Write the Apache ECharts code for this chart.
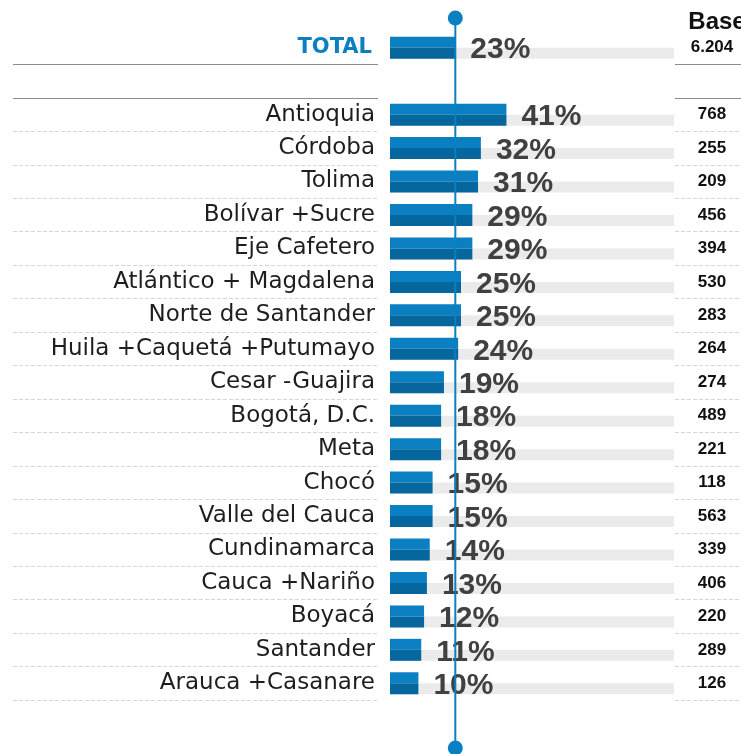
<!DOCTYPE html>
<html>
<head>
<meta charset="utf-8">
<script src="https://cdn.jsdelivr.net/npm/echarts@6/dist/echarts.min.js"></script>
<style>
  html, body { margin: 0; padding: 0; background: #fff; }
  #main { width: 741px; height: 754px; }
</style>
</head>
<body>
<div id="main"></div>
<script>
// datos
const totalLabel = 'TOTAL';
const totalValue = 23;
const totalBase = '6.204';
const regions = ['Antioquia', 'Córdoba', 'Tolima', 'Bolívar +Sucre', 'Eje Cafetero',
  'Atlántico + Magdalena', 'Norte de Santander', 'Huila +Caquetá +Putumayo', 'Cesar -Guajira',
  'Bogotá, D.C.', 'Meta', 'Chocó', 'Valle del Cauca', 'Cundinamarca', 'Cauca +Nariño',
  'Boyacá', 'Santander', 'Arauca +Casanare'];
const values = [41, 32, 31, 29, 29, 25, 25, 24, 19, 18, 18, 15, 15, 14, 13, 12, 11, 10];
const bases = ['768', '255', '209', '456', '394', '530', '283', '264', '274', '489',
  '221', '118', '563', '339', '406', '220', '289', '126'];

const blue = '#0a7fc2';
const blueDark = '#06679f';
const rowH = 33.45;
const top0 = 31;
const topR = top0 + 2 * rowH;

const pctLabel = {
  show: true, position: 'right', distance: 15, offset: [0, 8],
  formatter: '{c}%', color: '#404040', fontSize: 30, fontWeight: 'bold',
  fontFamily: 'Liberation Sans'
};

function lineAxis(grid, cats, dashed) {
  return {
    gridIndex: grid, type: 'category', data: cats, inverse: true,
    axisLine: {show: false}, axisTick: {show: false}, axisLabel: {show: false},
    splitLine: {
      show: true, showMinLine: false, showMaxLine: true,
      lineStyle: dashed ? {color: '#d6d6d6', type: [4, 2], width: 1} : {color: '#8c8c8c', width: 1}
    }
  };
}

const chart = echarts.init(document.getElementById('main'));
chart.setOption({
  animation: false,
  backgroundColor: '#fff',
  title: {
    text: 'Base', left: 712, top: 5, textAlign: 'center',
    textStyle: {fontFamily: 'Liberation Sans', fontWeight: 'bold', fontSize: 24, color: '#111'}
  },
  grid: [
    {left: 390, width: 284, top: top0, height: rowH},          // barra total
    {left: 390, width: 284, top: topR, height: 18 * rowH},     // barras regiones
    {left: 13, width: 365, top: top0, height: 2 * rowH},       // lineas izq total
    {left: 13, width: 365, top: topR, height: 18 * rowH},      // lineas izq regiones
    {left: 675, right: 0, top: top0, height: 2 * rowH},        // lineas der total
    {left: 675, right: 0, top: topR, height: 18 * rowH},       // lineas der regiones
    {left: 390, width: 284, top: 18, height: 730}              // linea vertical
  ],
  xAxis: [
    {gridIndex: 0, type: 'value', min: 0, max: 100, show: false},
    {gridIndex: 1, type: 'value', min: 0, max: 100, show: false},
    {gridIndex: 2, type: 'value', show: false},
    {gridIndex: 3, type: 'value', show: false},
    {gridIndex: 4, type: 'value', show: false},
    {gridIndex: 5, type: 'value', show: false},
    {gridIndex: 6, type: 'value', min: 0, max: 100, show: false}
  ],
  yAxis: [
    {
      gridIndex: 0, type: 'category', data: [totalLabel], inverse: true,
      axisLine: {show: false}, axisTick: {show: false}, splitLine: {show: false},
      axisLabel: {margin: 18, color: blue, fontSize: 21, fontWeight: 'bold', fontFamily: 'DejaVu Sans'}
    },
    {
      gridIndex: 0, type: 'category', data: [totalLabel], inverse: true, position: 'right',
      axisLine: {show: false}, axisTick: {show: false}, splitLine: {show: false},
      axisLabel: {margin: 38, align: 'center', formatter: () => totalBase, color: '#111',
        fontSize: 17, fontWeight: 'bold', fontFamily: 'Liberation Sans'}
    },
    {
      gridIndex: 1, type: 'category', data: regions, inverse: true,
      axisLine: {show: false}, axisTick: {show: false}, splitLine: {show: false},
      axisLabel: {margin: 15, color: '#1e1e1e', fontSize: 23, fontFamily: 'DejaVu Sans'}
    },
    {
      gridIndex: 1, type: 'category', data: regions, inverse: true, position: 'right',
      axisLine: {show: false}, axisTick: {show: false}, splitLine: {show: false},
      axisLabel: {margin: 38, align: 'center', formatter: (v, i) => bases[i], color: '#111',
        fontSize: 17, fontWeight: 'bold', fontFamily: 'Liberation Sans'}
    },
    lineAxis(2, [totalLabel, ''], false),
    lineAxis(3, regions, true),
    lineAxis(4, [totalLabel, ''], false),
    lineAxis(5, regions, true),
    {gridIndex: 6, type: 'value', min: 0, max: 1, show: false}
  ],
  series: [
    {
      type: 'bar', xAxisIndex: 0, yAxisIndex: 0, data: [totalValue],
      barWidth: 11, barGap: 0, itemStyle: {color: blue}, label: pctLabel
    },
    {
      type: 'bar', xAxisIndex: 0, yAxisIndex: 0, data: [totalValue],
      barWidth: 11, barGap: 0, itemStyle: {color: blueDark},
      showBackground: true, backgroundStyle: {color: '#ebebeb'}
    },
    {
      type: 'bar', xAxisIndex: 1, yAxisIndex: 2, data: values,
      barWidth: 11, barGap: 0, itemStyle: {color: blue}, label: pctLabel
    },
    {
      type: 'bar', xAxisIndex: 1, yAxisIndex: 2, data: values,
      barWidth: 11, barGap: 0, itemStyle: {color: blueDark},
      showBackground: true, backgroundStyle: {color: '#ebebeb'}
    },
    {
      type: 'line', xAxisIndex: 6, yAxisIndex: 8, z: 10, silent: true,
      data: [[totalValue, 0], [totalValue, 1]],
      symbol: 'circle', symbolSize: 15, showSymbol: true,
      lineStyle: {color: blue, width: 2}, itemStyle: {color: blue}
    }
  ]
});
</script>
</body>
</html>
